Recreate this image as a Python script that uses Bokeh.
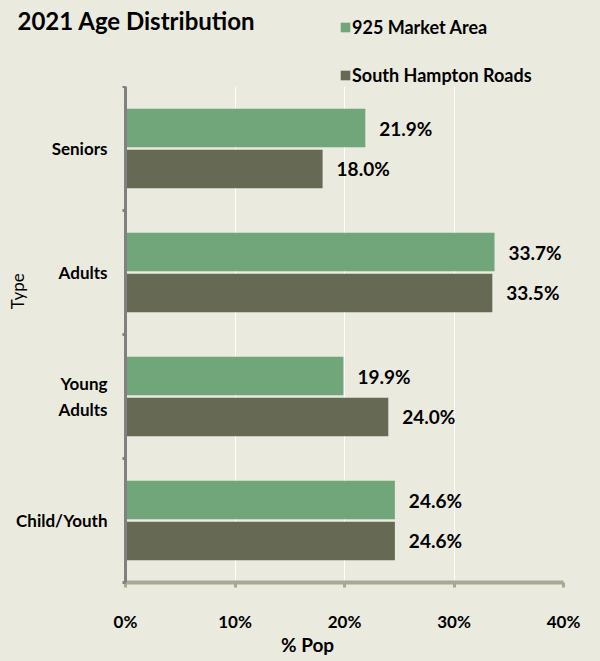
from bokeh.plotting import figure
from bokeh.layouts import column
from bokeh.models import (ColumnDataSource, Range1d, FixedTicker, LabelSet, Label,
                          Legend, LegendItem)
from bokeh.core.properties import value
from bokeh.embed import file_html
from bokeh.resources import INLINE

# ---- data ----
categories = ["Child/Youth", "Young Adults", "Adults", "Seniors"]
category_labels = ["Child/Youth", "Young\nAdults", "Adults", "Seniors"]
market_area = [24.6, 19.9, 33.7, 21.9]
south_hampton_roads = [24.6, 24.0, 33.5, 18.0]
series_names = ["925 Market Area", "South Hampton Roads"]
x_ticks = [0, 10, 20, 30, 40]
x_tick_labels = ["0%", "10%", "20%", "30%", "40%"]
title_text = "2021 Age Distribution"
x_title = "% Pop"
y_title = "Type"

# ---- style ----
BG = "#EBEADF"
GREEN = "#71A57A"
DARK = "#666A54"
FONT = "Lato"
BAR_H = 0.31
OFF = 0.165
W = 600
HEAD_H = 86
MAIN_H = 575
NBSP = "\u00a0"

# ---------------- header (title + legend) ----------------
head = figure(width=W, height=HEAD_H, output_backend="svg", toolbar_location=None,
              x_range=Range1d(0, W), y_range=Range1d(0, HEAD_H),
              x_axis_type=None, y_axis_type=None,
              min_border_left=0, min_border_right=0, min_border_top=0,
              min_border_bottom=0)
head.background_fill_color = BG
head.border_fill_color = BG
head.outline_line_color = None
head.grid.visible = False

head.add_layout(Label(x=17, y=HEAD_H - 20, text=title_text, text_align="left",
                      text_baseline="middle", text_font=FONT,
                      text_font_style="bold", text_font_size="24px",
                      text_color="black"))

# legend-key renderers: a single NaN row, so nothing is drawn in the header
key_src = ColumnDataSource(dict(y=[float("nan")], right=[float("nan")]))
lg1 = head.hbar(y="y", right="right", left=0, height=1, source=key_src,
                fill_color=GREEN, line_color=None)
lg2 = head.hbar(y="y", right="right", left=0, height=1, source=key_src,
                fill_color=DARK, line_color=None)
legend = Legend(items=[LegendItem(label=series_names[0], renderers=[lg1]),
                       LegendItem(label=series_names[1], renderers=[lg2])],
                location=(339, 0), orientation="vertical",
                glyph_width=12, glyph_height=12, label_height=20, spacing=26,
                padding=0, margin=0, label_standoff=1,
                label_text_font=FONT, label_text_font_style="bold",
                label_text_font_size="18px", label_text_color="black",
                label_text_baseline="middle",
                background_fill_alpha=0, border_line_color=None)
head.add_layout(legend)

# ---------------- main chart ----------------
pos = [i + 0.5 for i in range(len(categories))]
src = ColumnDataSource(dict(
    pos_m=[v + OFF for v in pos],
    pos_s=[v - OFF for v in pos],
    market=market_area,
    south=south_hampton_roads,
    market_txt=[f"{v:.1f}%" for v in market_area],
    south_txt=[f"{v:.1f}%" for v in south_hampton_roads],
))

p = figure(width=W, height=MAIN_H, output_backend="svg", toolbar_location=None,
           x_range=Range1d(0, 40), y_range=Range1d(0, len(categories)),
           min_border_left=125, min_border_right=37, min_border_top=0,
           min_border_bottom=79)
p.background_fill_color = BG
p.border_fill_color = BG
p.outline_line_color = None

for fig in (head, p):
    if hasattr(fig, "frame_align"):
        fig.frame_align = False

p.hbar(y="pos_m", right="market", left=0, height=BAR_H, source=src,
       fill_color=GREEN, line_color=None)
p.hbar(y="pos_s", right="south", left=0, height=BAR_H, source=src,
       fill_color=DARK, line_color=None)

lbl_kw = dict(x_offset=14, text_baseline="middle", text_font=value(FONT),
              text_font_style="bold", text_font_size="19px", text_color="black",
              source=src)
p.add_layout(LabelSet(x="market", y="pos_m", text="market_txt", **lbl_kw))
p.add_layout(LabelSet(x="south", y="pos_s", text="south_txt", **lbl_kw))

# grid
p.xgrid.ticker = FixedTicker(ticks=x_ticks[1:])
p.xgrid.grid_line_color = "white"
p.xgrid.grid_line_width = 1
p.ygrid.visible = False

# x axis
xa = p.xaxis[0]
xa.ticker = FixedTicker(ticks=x_ticks)
xa.major_label_overrides = {t: l for t, l in zip(x_ticks, x_tick_labels)}
xa.axis_line_color = "#A8A893"
xa.axis_line_width = 4
xa.major_tick_line_color = "#A8A893"
xa.major_tick_line_width = 3
xa.major_tick_out = 5
xa.major_tick_in = 0
xa.minor_tick_line_color = None
xa.major_label_standoff = 23
xa.major_label_text_font = FONT
xa.major_label_text_font_style = "bold"
xa.major_label_text_font_size = "17px"
xa.major_label_text_color = "black"
# trailing non-breaking spaces shift the title left, as in the reference
xa.axis_label = x_title + NBSP * 16
xa.axis_label_text_font = FONT
xa.axis_label_text_font_style = "bold"
xa.axis_label_text_font_size = "19px"
xa.axis_label_text_color = "black"
xa.axis_label_standoff = -2

# y axis: labels at category centres, small ticks at category boundaries
ya = p.yaxis[0]
ya.ticker = FixedTicker(ticks=pos, minor_ticks=list(range(len(categories) + 1)))
ya.major_label_overrides = {v: t for v, t in zip(pos, category_labels)}
ya.major_tick_line_color = None
ya.major_tick_out = 3
ya.major_tick_in = 0
ya.minor_tick_line_color = "#808080"
ya.minor_tick_line_width = 3
ya.minor_tick_out = 3
ya.minor_tick_in = 0
ya.axis_line_color = "#808080"
ya.axis_line_width = 3
ya.major_label_standoff = 15
ya.major_label_text_font = FONT
ya.major_label_text_font_style = "bold"
ya.major_label_text_font_size = "17px"
ya.major_label_text_color = "black"
# leading non-breaking spaces nudge the rotated title upward, as in the reference
ya.axis_label = NBSP * 20 + y_title
ya.axis_label_text_font = FONT
ya.axis_label_text_font_style = "normal"
ya.axis_label_text_font_size = "17px"
ya.axis_label_text_color = "black"
ya.axis_label_standoff = -15

layout = column(head, p, spacing=0, styles={"background-color": BG})
open("out.html", "w").write(file_html(layout, INLINE))
